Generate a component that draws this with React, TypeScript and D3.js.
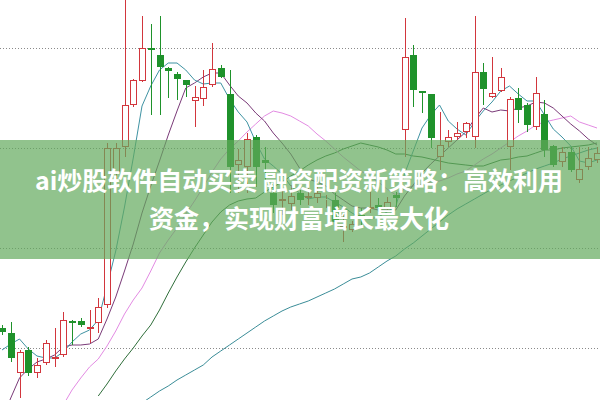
import React from "react";
import * as d3 from "d3";

const W = 600;
const H = 400;

// Candles (price units)
const openP = [2.40,2.30,1.50,1.96,1.50,1.70,1.78,1.86,2.54,2.54,2.38,2.50,2.86,5.52,6.02,6.86,7.34,8.00,7.86,7.60,7.48,7.36,6.94,6.98,7.26,7.60,7.08,5.66,5.62,6.22,5.76,5.10,4.94,4.88,5.10,5.00,5.00,4.96,4.96,4.40,4.36,4.66,4.78,4.86,4.80,5.06,6.36,7.86,7.14,7.08,5.82,6.12,6.22,6.32,6.22,7.52,7.02,7.14,6.02,7.00,6.86,6.42,6.68,6.04,5.72,5.92,5.36,5.62,5.76];
const closeP = [2.32,1.80,1.92,1.50,1.66,2.10,1.82,2.56,2.50,2.46,2.42,2.82,6.00,6.00,6.86,7.36,8.00,7.96,7.62,7.54,7.38,7.26,7.02,7.22,7.58,7.42,5.62,5.76,6.18,5.62,5.70,4.86,4.98,5.04,4.96,5.04,5.10,4.98,4.52,4.44,4.48,4.60,4.82,4.80,4.92,5.00,7.82,7.16,7.10,6.20,6.06,6.22,6.30,6.50,7.52,7.18,7.10,7.42,6.98,6.76,6.46,7.10,5.96,5.66,5.92,5.56,5.58,5.80,5.90];
const highP = [2.46,2.52,1.96,2.02,1.80,2.16,2.40,2.72,2.56,2.60,2.76,3.00,6.10,6.10,9.06,7.38,8.64,8.48,8.64,7.62,7.52,7.36,7.24,7.56,8.10,7.66,7.56,5.98,6.30,6.26,6.02,5.26,5.26,5.26,5.16,5.20,5.26,5.06,5.10,4.70,4.54,4.80,5.12,5.00,5.02,5.12,8.60,8.06,7.14,7.08,6.72,6.36,6.52,6.52,8.64,7.70,7.82,7.60,7.02,7.20,6.90,7.42,6.96,6.06,6.02,6.02,6.02,6.02,6.02];
const lowP = [2.26,1.72,1.00,1.44,1.40,1.66,1.62,1.82,2.06,2.42,2.10,2.30,2.80,5.36,5.82,6.82,7.32,6.66,6.66,7.00,6.96,7.02,6.42,6.84,7.22,7.40,5.10,5.10,5.10,5.22,5.10,4.70,4.66,4.76,4.86,4.86,4.90,4.80,4.46,4.12,4.32,4.46,4.70,4.72,4.76,4.82,5.82,6.82,6.70,6.00,5.56,6.02,6.16,6.20,6.00,6.86,7.00,7.12,5.56,6.50,6.32,6.36,5.82,5.62,5.62,5.52,5.30,5.56,5.70];

// Moving averages (null = not drawn)
const ma5 = [1.96,2.08,2.18,1.98,1.84,1.80,1.80,1.92,2.12,2.28,2.36,2.56,3.24,3.94,4.82,5.80,6.84,7.24,7.56,7.70,7.70,7.56,7.36,7.28,7.30,7.30,6.98,6.72,6.52,6.12,5.78,5.64,5.48,5.24,5.10,4.98,5.02,5.02,4.92,4.82,4.70,4.60,4.58,4.62,4.72,4.82,5.48,5.94,6.40,6.66,6.86,6.54,6.38,6.26,6.52,6.74,6.92,7.14,7.24,7.08,6.94,6.94,6.66,6.38,6.22,6.04,5.74,5.70,5.76];
const ma10 = [0.56,1.00,1.40,1.58,1.72,1.78,1.86,2.02,2.06,2.06,2.08,2.18,2.58,3.02,3.54,4.08,4.70,5.24,5.74,6.26,6.74,7.20,7.30,7.42,7.50,7.50,7.26,7.04,6.90,6.70,6.54,6.30,6.10,5.88,5.60,5.38,5.32,5.24,5.08,4.96,4.84,4.80,4.80,4.76,4.76,4.76,5.04,5.26,5.50,5.68,5.84,6.00,6.16,6.32,6.58,6.80,6.72,6.76,6.74,6.80,6.84,6.92,6.90,6.80,6.64,6.48,6.34,6.18,6.06];
const ma20 = [null,null,null,null,null,null,null,0.86,1.16,1.40,1.62,1.78,2.04,2.34,2.68,2.96,3.20,3.54,3.90,4.16,4.40,4.68,4.94,5.22,5.52,5.78,5.98,6.14,6.32,6.48,6.64,6.74,6.70,6.64,6.54,6.44,6.28,6.14,5.98,5.82,5.68,5.54,5.44,5.32,5.18,5.06,5.18,5.24,5.28,5.32,5.34,5.40,5.48,5.54,5.66,5.78,5.88,6.00,6.12,6.24,6.34,6.46,6.52,6.56,6.60,6.64,6.52,6.46,6.40];
const ma30 = [null,null,null,null,null,null,null,null,null,null,null,1.04,1.28,1.54,1.78,2.00,2.24,2.46,2.76,3.10,3.42,3.72,4.00,4.26,4.52,4.72,4.86,4.94,4.98,5.00,5.12,5.22,5.32,5.44,5.54,5.66,5.76,5.84,5.90,5.98,6.04,6.10,6.06,6.02,5.96,5.88,5.88,5.84,5.82,5.78,5.74,5.70,5.68,5.66,5.64,5.64,5.70,5.76,5.78,5.82,5.84,5.90,5.96,5.96,6.00,6.02,6.04,6.06,6.10];
const ma60 = [null,null,null,null,null,null,null,null,null,null,null,null,null,null,null,null,0.90,1.02,1.14,1.24,1.36,1.46,1.56,1.66,1.82,1.94,2.06,2.18,2.30,2.42,2.54,2.64,2.74,2.82,2.88,2.94,3.02,3.10,3.18,3.28,3.38,3.42,3.50,3.62,3.74,3.84,3.98,4.10,4.24,4.38,4.52,4.66,4.78,4.88,4.98,5.08,5.18,5.26,5.34,5.42,5.50,5.58,5.64,5.70,5.78,5.84,5.90,5.96,6.00];

const gridPrices = [8, 6, 4, 2];
const titleLines = ["ai炒股软件自动买卖 融资配资新策略：高效利用", "资金，实现财富增长最大化"];

const RED = "#d2363d";
const GREEN = "#1f922b";

const maSeries = [
  { values: ma60, color: "#3b8d98" },
  { values: ma30, color: "#2f6e3a" },
  { values: ma20, color: "#e38be3" },
  { values: ma10, color: "#7a3a78" },
  { values: ma5, color: "#3f93a3" },
];

export default function App() {
  const x = d3.scaleLinear().domain([0, openP.length - 1]).range([2, 597]);
  const y = d3.scaleLinear().domain([0.96, 8.96]).range([H, 0]);

  const line = d3
    .line<number | null>()
    .defined((d) => d !== null)
    .x((_, i) => x(i))
    .y((d) => y(d as number));

  return (
    <svg
      width={W}
      height={H}
      viewBox={`0 0 ${W} ${H}`}
      style={{ position: "absolute", left: 0, top: 0, background: "#fff" }}
    >
      <rect x={0} y={0} width={W} height={H} fill="#fff" />
      {gridPrices.map((p) => {
        const gy = Math.round(y(p)) + 0.5;
        return (
          <line key={p} x1={0} x2={W} y1={gy} y2={gy} stroke="#8a8a8a" strokeWidth={1} strokeDasharray="1,2" />
        );
      })}
      {maSeries.map((s, k) => (
        <path key={k} d={line(s.values) || ""} fill="none" stroke={s.color} strokeWidth={1} />
      ))}
      {openP.map((o, i) => {
        const c = closeP[i];
        const h = highP[i];
        const l = lowP[i];
        const cx = Math.round(x(i));
        const up = c >= o;
        const top = Math.round(y(Math.max(o, c)));
        const bot = Math.max(Math.round(y(Math.min(o, c))), top + 1);
        const yh = Math.round(y(h));
        const yl = Math.round(y(l));
        if (up) {
          return (
            <g key={i}>
              <line x1={cx + 0.5} x2={cx + 0.5} y1={yh} y2={top} stroke={RED} strokeWidth={1} />
              <line x1={cx + 0.5} x2={cx + 0.5} y1={bot} y2={yl} stroke={RED} strokeWidth={1} />
              <rect x={cx - 2.5} y={top + 0.5} width={6} height={Math.max(bot - top - 1, 0)} fill="#fff" stroke={RED} strokeWidth={1} />
            </g>
          );
        }
        return (
          <g key={i}>
            <line x1={cx + 0.5} x2={cx + 0.5} y1={yh} y2={yl} stroke={GREEN} strokeWidth={1} />
            <rect x={cx - 3} y={top} width={7} height={Math.max(bot - top, 1)} fill={GREEN} />
          </g>
        );
      })}
      <rect x={0} y={140} width={W} height={119} fill="rgb(98,170,92)" fillOpacity={0.7} />
      {titleLines.map((t, k) => (
        <text
          key={k}
          x={299}
          y={190 + k * 38}
          textAnchor="middle"
          fill="#fff"
          fontSize={25}
          fontWeight="bold"
          fontFamily="'Noto Sans CJK SC', 'Noto Sans', sans-serif"
        >
          {t}
        </text>
      ))}
    </svg>
  );
}
